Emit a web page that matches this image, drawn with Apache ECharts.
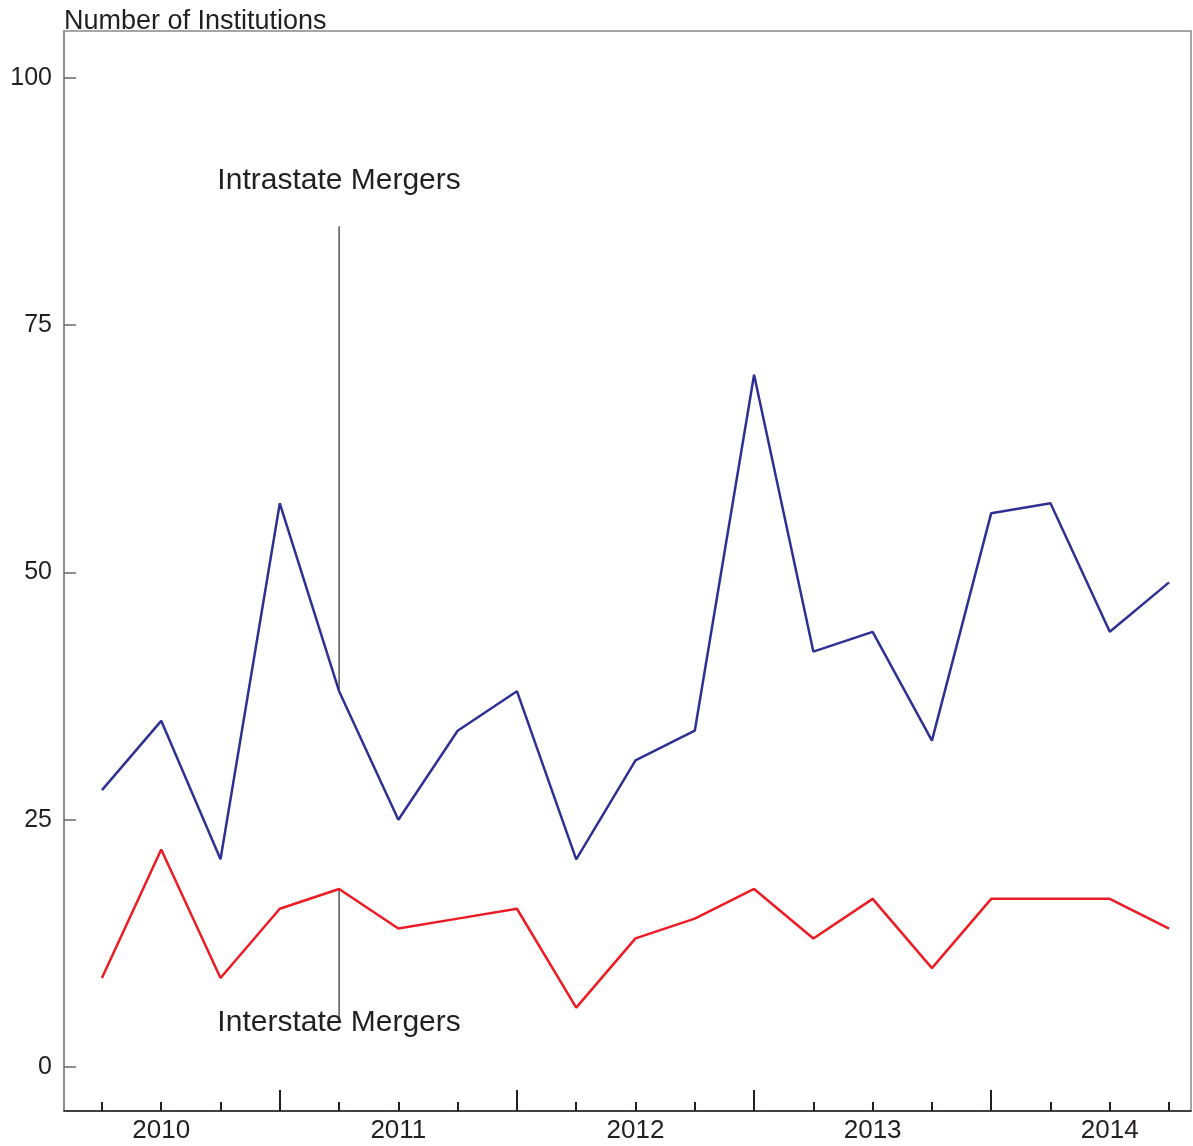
<!DOCTYPE html>
<html>
<head>
<meta charset="utf-8">
<script src="https://cdn.jsdelivr.net/npm/echarts@6/dist/echarts.min.js"></script>
<style>
  html, body { margin: 0; padding: 0; background: #fff; }
  #chart { width: 1193px; height: 1146px; }
</style>
</head>
<body>
<div id="chart"></div>
<script>
// quarters, first point is 2009 Q4
const quarters = [
  "2009Q4", "2010Q1", "2010Q2", "2010Q3", "2010Q4",
  "2011Q1", "2011Q2", "2011Q3", "2011Q4",
  "2012Q1", "2012Q2", "2012Q3", "2012Q4",
  "2013Q1", "2013Q2", "2013Q3", "2013Q4",
  "2014Q1", "2014Q2"
];
const intrastate = [28, 35, 21, 57, 38, 25, 34, 38, 21, 31, 34, 70, 42, 44, 33, 56, 57, 44, 49];
const interstate = [9, 22, 9, 16, 18, 14, 15, 16, 6, 13, 15, 18, 13, 17, 10, 17, 17, 17, 14];
const yTicks = [0, 25, 50, 75, 100];

// annotation anchor (index into quarters) and label levels
const noteIndex = 4;
const intraLabelY = 89.6;
const intraLineTop = 85;
const interLabelY = 4.5;

const textColor = "#231f20";
const idx = quarters.map((q, i) => i);
const yearIdx = idx.filter((i) => quarters[i].endsWith("Q1"));
const majorIdx = idx.filter((i) => quarters[i].endsWith("Q3"));

const chart = echarts.init(document.getElementById("chart"));

const xBase = {
  type: "value",
  min: -0.64,
  max: 18.37,
  position: "bottom",
  splitLine: { show: false },
};

const noteLabel = (text, x, y) => ({
  type: "scatter",
  data: [[x, y]],
  symbolSize: 1,
  itemStyle: { color: "rgba(0,0,0,0)", opacity: 1 },
  silent: true,
  z: 4,
  label: {
    show: true,
    position: "inside",
    formatter: text,
    color: textColor,
    opacity: 1,
    fontSize: 30,
  },
});

chart.setOption({
  animation: false,
  textStyle: { fontFamily: "Liberation Sans, Arial, sans-serif" },
  grid: {
    left: 64,
    top: 31,
    right: 2,
    bottom: 35,
    show: true,
    borderColor: "#888888",
    borderWidth: 1.5,
  },
  xAxis: [
    {
      ...xBase,
      axisLine: { show: true, onZero: false, lineStyle: { color: textColor, width: 1.5 } },
      axisTick: {
        show: true,
        inside: true,
        length: 9,
        customValues: idx,
        lineStyle: { color: textColor, width: 2 },
      },
      axisLabel: {
        show: true,
        customValues: yearIdx,
        formatter: (v) => quarters[Math.round(v)].slice(0, 4),
        color: textColor,
        fontSize: 26,
        margin: 7,
      },
    },
    {
      ...xBase,
      axisLine: { show: false, onZero: false },
      axisTick: {
        show: true,
        inside: true,
        length: 21,
        customValues: majorIdx,
        lineStyle: { color: textColor, width: 2 },
      },
      axisLabel: { show: false },
    },
  ],
  yAxis: {
    type: "value",
    min: -4.45,
    max: 104.75,
    name: "Number of Institutions",
    nameLocation: "end",
    nameGap: -4,
    nameTextStyle: { color: textColor, fontSize: 27, align: "left", verticalAlign: "bottom" },
    splitLine: { show: false },
    axisLine: { show: true, onZero: false, lineStyle: { color: "#888888", width: 1.5 } },
    axisTick: {
      show: true,
      inside: true,
      length: 12,
      customValues: yTicks,
      lineStyle: { color: "#666666", width: 1.5 },
    },
    axisLabel: {
      customValues: yTicks,
      color: textColor,
      fontSize: 25,
      margin: 12,
    },
  },
  series: [
    {
      name: "Intrastate Mergers",
      type: "line",
      data: intrastate.map((v, i) => [i, v]),
      showSymbol: false,
      lineStyle: { color: "#2e3192", width: 2.5 },
      z: 3,
    },
    {
      name: "Interstate Mergers",
      type: "line",
      data: interstate.map((v, i) => [i, v]),
      showSymbol: false,
      lineStyle: { color: "#ed1c24", width: 2.5 },
      z: 3,
    },
    {
      name: "intraNote",
      type: "line",
      data: [[noteIndex, intraLineTop], [noteIndex, intrastate[noteIndex]]],
      showSymbol: false,
      lineStyle: { color: "#000", width: 1 },
      z: 2,
    },
    {
      name: "interNote",
      type: "line",
      data: [[noteIndex, interstate[noteIndex]], [noteIndex, interLabelY]],
      showSymbol: false,
      lineStyle: { color: "#000", width: 1 },
      z: 2,
    },
    noteLabel("Intrastate Mergers", noteIndex, intraLabelY),
    noteLabel("Interstate Mergers", noteIndex, interLabelY),
  ],
});
</script>
</body>
</html>
